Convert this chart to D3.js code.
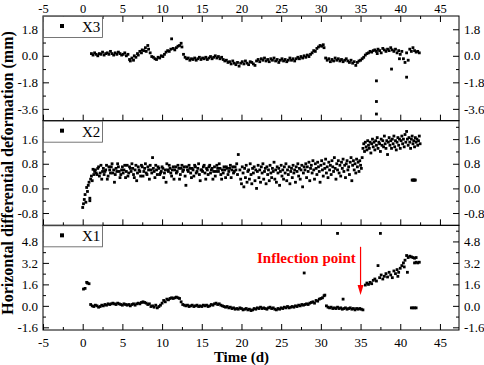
<!DOCTYPE html>
<html>
<head>
<meta charset="utf-8">
<script src="https://cdn.jsdelivr.net/npm/d3@7"></script>
<style>
  body { margin: 0; background: #fff; }
  text { font-family: "Liberation Serif", "Times New Roman", serif; }
</style>
</head>
<body>
<div id="chart"></div>
<script>
/*global d3 */

// ************************* Data (time in days, deformation in mm)

const timeTicks = [-5, 0, 5, 10, 15, 20, 25, 30, 35, 40, 45]
const timeMinor = [-2.5, 2.5, 7.5, 12.5, 17.5, 22.5, 27.5, 32.5, 37.5, 42.5]

const x3Ticks = [-3.6, -1.8, 0, 1.8]
const x3Minor = [-2.7, -0.9, 0.9]
const x2Ticks = [-0.8, 0, 0.8, 1.6]
const x2Minor = [-0.4, 0.4, 1.2, 2.0]
const x1Ticks = [-1.6, 0, 1.6, 3.2, 4.8]
const x1Minor = [-0.8, 0.8, 2.4, 4.0, 5.6]

const x3Data = [
  [1.1,0.15],[1.3,0.05],[1.5,0.2],[1.7,0.1],[1.9,0.0],[2.1,0.15],[2.3,0.1],[2.5,0.25],[2.7,0.05],[2.9,0.15],
  [3.1,0.2],[3.3,0.1],[3.5,0.3],[3.7,0.15],[3.9,0.05],[4.1,0.2],[4.3,0.1],[4.5,0.25],[4.7,0.15],[4.9,0.05],
  [5.1,0.1],[5.3,0.2],[5.5,0.0],[5.7,0.1],[5.9,-0.25],[6.0,-0.35],[6.2,-0.15],[6.4,-0.3],[6.5,0.0],[6.7,-0.1],
  [6.9,0.15],[7.0,0.05],[7.2,0.3],[7.4,0.2],[7.5,0.4],[7.7,0.35],[7.9,0.55],[8.0,0.3],[8.2,0.7],[8.3,0.45],
  [8.5,0.2],[8.7,-0.05],[8.9,-0.1],[9.1,-0.2],[9.3,-0.25],[9.5,-0.1],[9.7,-0.15],[9.9,0.0],[10.1,-0.05],[10.3,0.1],
  [10.5,0.25],[10.7,0.35],[10.9,0.3],[11.1,0.45],[11.2,1.15],[11.4,0.5],[11.6,0.4],[11.8,0.55],[12.0,0.65],[12.2,0.7],
  [12.4,0.85],[12.5,0.6],[12.7,0.1],[12.9,-0.1],[13.1,-0.2],[13.3,-0.15],[13.5,-0.3],[13.7,-0.2],[13.9,-0.25],[14.1,-0.15],
  [14.3,-0.3],[14.5,-0.2],[14.7,-0.1],[14.9,-0.25],[15.1,-0.15],[15.3,-0.2],[15.5,-0.1],[15.7,-0.25],[15.9,-0.15],[16.1,-0.05],
  [16.3,-0.2],[16.5,-0.1],[16.7,0.0],[16.9,-0.15],[17.1,-0.05],[17.3,-0.2],[17.5,-0.1],[17.7,-0.25],[17.9,-0.35],[18.1,-0.3],
  [18.3,-0.45],[18.5,-0.4],[18.7,-0.55],[18.9,-0.35],[19.1,-0.5],[19.3,-0.6],[19.5,-0.45],[19.7,-0.7],[19.9,-0.5],[20.1,-0.4],
  [20.3,-0.55],[20.5,-0.35],[20.7,-0.5],[20.9,-0.6],[21.1,-0.4],[21.3,-0.45],[21.5,-0.55],[21.7,-0.65],[21.9,-0.35],[22.1,-0.25],
  [22.3,-0.4],[22.5,-0.2],[22.7,-0.3],[22.9,-0.15],[23.1,-0.35],[23.3,-0.25],[23.5,-0.4],[23.7,-0.2],[23.9,-0.3],[24.1,-0.15],
  [24.3,-0.35],[24.5,-0.25],[24.7,-0.45],[24.9,-0.3],[25.1,-0.2],[25.3,-0.35],[25.5,-0.25],[25.7,-0.4],[25.9,-0.3],[26.1,-0.15],
  [26.3,-0.3],[26.5,-0.2],[26.7,-0.35],[26.9,-0.2],[27.1,-0.1],[27.3,-0.2],[27.5,-0.05],[27.7,-0.15],[27.9,0.0],[28.1,-0.1],
  [28.3,0.05],[28.5,-0.05],[28.7,0.1],[28.9,0.2],[29.1,0.35],[29.3,0.3],[29.5,0.5],[29.7,0.6],[29.9,0.7],[30.1,0.65],
  [30.3,0.75],[30.4,0.55],[30.6,-0.15],[30.8,-0.3],[31.0,-0.2],[31.2,-0.4],[31.4,-0.25],[31.6,-0.35],[31.8,-0.15],[32.0,-0.3],
  [32.2,-0.2],[32.4,-0.35],[32.6,-0.25],[32.8,-0.4],[33.0,-0.3],[33.2,-0.2],[33.4,-0.35],[33.6,-0.45],[33.8,-0.3],[34.0,-0.5],
  [34.2,-0.4],[34.4,-0.65],[34.6,-0.45],[34.8,-0.35],[35.0,-0.3],[35.2,-0.2],[35.4,-0.1],[35.6,0.05],[35.8,0.15],[36.0,0.2],
  [36.2,0.3],[36.4,0.25],[36.6,0.35],[36.8,0.4],[37.0,0.3],[37.2,0.45],[37.4,0.35],[37.6,0.2],[37.8,0.5],[38.0,0.4],
  [38.2,0.3],[38.4,0.45],[38.6,0.35],[38.8,0.55],[39.0,0.4],[39.2,0.3],[39.4,0.45],[39.6,0.2],[39.8,0.35],[40.0,0.1],
  [40.2,0.3],[40.4,-0.2],[40.6,-0.45],[40.8,0.2],[41.0,-0.3],[41.2,0.45],[41.4,0.3],[41.6,0.55],[41.8,0.35],[42.0,0.25],
  [42.2,0.3],[42.4,0.2],
  [37.0,-1.7],[37.0,-3.1],[37.0,-3.95],[38.9,-0.9],[40.8,-1.45],[37.1,0.15],[39.9,-0.2]
]

const x2Data = [
  [0.0,-0.62],[0.1,-0.5],[0.2,-0.36],[0.3,-0.2],[0.4,-0.45],[0.5,0.03],[0.6,-0.1],[0.7,0.1],[0.8,0.2],[0.9,-0.4],
  [0.9,-0.32],[1.0,0.3],[1.1,0.4],[1.2,0.25],[1.3,0.62],[1.4,0.45],[1.5,0.55],
  [1.6,0.6],[1.7,0.5],[1.8,0.45],[1.9,0.65],[2.0,0.7],[2.1,0.4],[2.2,0.5],[2.3,0.75],[2.4,0.3],[2.5,0.55],
  [2.6,0.65],[2.7,0.45],[2.8,0.55],[2.9,0.6],[3.0,0.75],[3.1,0.3],[3.2,0.4],[3.3,0.7],[3.4,0.6],[3.5,0.5],
  [3.6,0.7],[3.7,0.8],[3.8,0.5],[3.9,0.6],[4.0,0.2],[4.1,0.45],[4.2,0.65],[4.3,0.55],[4.4,0.8],[4.5,0.7],
  [4.6,0.55],[4.7,0.35],[4.8,0.45],[4.9,0.6],[5.0,0.7],[5.1,0.5],[5.2,0.6],[5.3,0.75],[5.4,0.35],[5.5,0.55],
  [5.6,0.75],[5.7,0.4],[5.8,0.5],[5.9,0.7],[6.0,0.65],[6.1,0.55],[6.2,0.8],[6.3,0.65],[6.4,0.45],[6.5,0.35],
  [6.6,0.6],[6.7,0.75],[6.8,0.25],[6.9,0.5],[7.0,0.7],[7.1,0.6],[7.2,0.55],[7.3,0.4],[7.4,0.75],[7.5,0.7],
  [7.6,0.4],[7.7,0.55],[7.8,0.65],[7.9,0.8],[8.0,0.5],[8.1,0.45],[8.2,0.7],[8.3,0.6],[8.4,0.3],[8.5,0.75],
  [8.6,0.6],[8.7,0.5],[8.8,1.0],[8.9,0.65],[9.0,0.55],[9.1,0.35],[9.2,0.75],[9.3,0.6],[9.4,0.45],[9.5,0.7],
  [9.6,0.65],[9.7,0.45],[9.8,0.5],[9.9,0.55],[10.0,0.7],[10.1,0.65],[10.2,0.35],[10.3,0.5],[10.4,0.6],[10.5,0.2],
  [10.6,0.8],[10.7,0.6],[10.8,0.55],[10.9,0.75],[11.0,0.65],[11.1,0.5],[11.2,0.4],[11.3,0.6],[11.4,0.7],[11.5,0.3],
  [11.6,0.6],[11.7,0.7],[11.8,0.5],[11.9,0.55],[12.0,0.75],[12.1,0.65],[12.2,0.3],[12.3,0.45],[12.4,0.65],[12.5,0.75],
  [12.6,0.55],[12.7,0.6],[12.8,0.7],[12.9,0.4],[13.0,0.1],[13.1,0.7],[13.2,0.6],[13.3,0.55],[13.4,0.75],[13.5,0.65],
  [13.6,0.5],[13.7,0.35],[13.8,0.65],[13.9,0.6],[14.0,0.4],[14.1,0.75],[14.2,0.7],[14.3,0.5],[14.4,0.55],[14.5,0.65],
  [14.6,0.8],[14.7,0.45],[14.8,0.25],[14.9,0.6],[15.0,0.6],[15.1,0.55],[15.2,0.7],[15.3,0.75],[15.4,0.5],[15.5,0.3],
  [15.6,0.65],[15.7,0.6],[15.8,0.45],[15.9,0.7],[16.0,0.75],[16.1,0.5],[16.2,0.6],[16.3,0.65],[16.4,0.3],[16.5,0.55],
  [16.6,0.7],[16.7,0.4],[16.8,0.55],[16.9,0.75],[17.0,0.65],[17.1,0.55],[17.2,0.8],[17.3,0.65],[17.4,0.45],[17.5,0.3],
  [17.6,0.6],[17.7,0.5],[17.8,0.7],[17.9,0.6],[18.0,0.35],[18.1,0.7],[18.2,0.65],[18.3,0.45],[18.4,0.55],[18.5,0.65],
  [18.6,0.75],[18.7,0.35],[18.8,0.6],[18.9,0.7],[19.0,0.5],[19.1,0.55],[19.2,0.7],[19.3,0.6],[19.4,0.8],[19.5,0.45],
  [19.6,1.1],[19.8,0.6],[19.9,0.3],[20.0,0.15],[20.1,0.7],[20.2,0.5],[20.3,0.05],[20.4,0.65],[20.5,0.35],[20.6,0.75],
  [20.7,0.2],[20.8,0.55],[20.9,0.6],[21.0,0.3],[21.1,0.8],[21.2,0.45],[21.3,0.15],[21.4,0.65],[21.5,0.5],[21.6,0.7],
  [21.7,0.25],[21.8,0.6],[21.9,0.0],[22.0,0.55],[22.1,0.75],[22.2,0.35],[22.3,0.6],[22.4,0.2],[22.5,0.7],[22.6,0.5],
  [22.7,0.8],[22.8,0.3],[22.9,0.55],[23.0,0.65],[23.1,0.15],[23.2,0.7],[23.3,0.45],[23.4,0.6],[23.5,0.25],[23.6,0.75],
  [23.7,0.5],[23.8,0.35],[23.9,0.65],[24.0,0.55],[24.1,0.85],[24.2,0.3],[24.3,0.6],[24.4,0.2],[24.5,0.7],[24.6,0.5],
  [24.7,0.65],[24.8,0.1],[24.9,0.55],[25.0,0.75],[25.1,0.4],[25.2,0.6],[25.3,0.3],[25.4,0.7],[25.5,0.5],[25.6,0.8],
  [25.7,0.25],[25.8,0.6],[25.9,0.45],[26.0,0.7],[26.1,0.15],[26.2,0.55],[26.3,0.65],[26.4,0.35],[26.5,0.75],[26.6,0.5],
  [26.7,0.6],[26.8,0.2],[26.9,0.7],[27.0,0.55],[27.1,0.8],[27.2,0.4],[27.3,0.65],[27.4,0.3],[27.5,0.6],[27.6,0.75],
  [27.7,0.05],[27.8,0.5],[27.9,0.7],[28.0,0.6],[28.1,0.8],[28.2,0.35],[28.3,0.7],[28.4,0.55],[28.5,0.85],[28.6,0.25],
  [28.7,0.65],[28.8,0.75],[28.9,0.5],[29.0,0.9],[29.1,0.6],[29.2,0.3],[29.3,0.8],[29.4,0.65],[29.5,0.45],[29.6,0.85],
  [29.7,0.7],[29.8,0.55],[29.9,0.2],[30.0,0.75],[30.1,0.9],[30.2,0.6],[30.3,0.4],[30.4,0.8],[30.5,0.65],[30.6,0.95],
  [30.7,0.5],[30.8,0.7],[30.9,0.35],[31.0,0.85],[31.1,0.6],[31.2,0.75],[31.3,0.45],[31.4,0.9],[31.5,0.7],[31.6,0.55],
  [31.7,1.0],[31.8,0.65],[31.9,0.3],[32.0,0.8],[32.1,0.6],[32.2,0.9],[32.3,0.5],[32.4,0.75],[32.5,0.4],[32.6,0.85],
  [32.7,0.65],[32.8,0.95],[32.9,0.55],[33.0,0.75],[33.1,0.35],[33.2,0.8],[33.3,0.9],[33.4,0.6],[33.5,0.7],[33.6,0.45],
  [33.7,0.85],[33.8,1.0],[33.9,0.25],[34.0,0.75],[34.1,0.9],[34.2,0.6],[34.3,0.8],[34.4,0.5],[34.5,0.95],[34.6,0.7],
  [34.7,0.85],[34.8,0.55],[34.9,0.9],[35.0,0.75],[35.1,0.65],[35.2,1.0],
  [35.3,1.3],[35.4,1.45],[35.5,1.2],[35.6,1.5],[35.7,1.35],[35.8,1.25],[35.9,1.55],[36.0,1.4],[36.1,1.3],[36.2,1.5],
  [36.3,1.15],[36.4,1.45],[36.5,1.6],[36.6,1.35],[36.7,1.5],[36.8,1.25],[36.9,1.55],[37.0,1.4],[37.1,1.65],[37.2,1.3],
  [37.3,1.5],[37.4,1.45],[37.5,1.2],[37.6,1.6],[37.7,1.4],[37.8,1.55],[37.9,1.35],[38.0,1.7],[38.1,1.45],[38.2,1.3],
  [38.3,1.55],[38.4,1.1],[38.5,1.5],[38.6,1.65],[38.7,1.4],[38.8,1.55],[38.9,1.3],[39.0,1.6],[39.1,1.45],[39.2,1.7],
  [39.3,1.35],[39.4,1.55],[39.5,1.25],[39.6,1.5],[39.7,1.65],[39.8,1.4],[39.9,1.6],[40.0,1.3],[40.1,1.55],[40.2,1.7],
  [40.3,1.45],[40.4,1.6],[40.5,1.35],[40.6,1.75],[40.7,1.5],[40.8,1.85],[40.9,1.6],[41.0,1.4],[41.1,1.65],[41.2,1.5],
  [41.3,1.3],[41.4,1.6],[41.5,1.7],[41.6,1.45],[41.7,1.55],[41.8,1.35],[41.9,1.65],[42.0,1.5],[42.1,1.6],[42.2,1.4],
  [42.3,1.55],[42.4,1.7],[42.5,1.45],
  [41.5,0.27],[41.6,0.27],[41.7,0.27],[41.8,0.27],[41.9,0.27]
]

const x1Data = [
  [0.1,1.25],[0.3,1.3],[0.5,1.75],[0.6,1.7],[0.8,1.65],
  [1.0,0.1],[1.2,0.0],[1.4,-0.05],[1.6,0.05],[1.8,0.0],[2.0,-0.1],[2.2,-0.05],[2.4,0.05],[2.6,0.0],[2.8,0.1],
  [3.0,0.05],[3.2,0.15],[3.4,0.1],[3.6,0.15],[3.8,0.2],[4.0,0.15],[4.2,0.1],[4.4,0.2],[4.6,0.15],[4.8,0.1],
  [5.0,0.05],[5.2,0.15],[5.4,0.1],[5.6,0.05],[5.8,0.1],[6.0,0.0],[6.2,0.1],[6.4,0.15],[6.6,0.05],[6.8,0.15],
  [7.0,0.2],[7.2,0.15],[7.4,0.25],[7.6,0.3],[7.8,0.25],[8.0,0.2],[8.2,0.1],[8.4,0.15],[8.6,-0.05],[8.8,0.0],
  [9.0,-0.1],[9.2,0.05],[9.4,-0.15],[9.6,-0.05],[9.8,0.05],[10.0,0.2],[10.2,0.4],[10.4,0.3],[10.6,0.5],[10.8,0.45],
  [11.0,0.55],[11.2,0.6],[11.4,0.55],[11.6,0.6],[11.8,0.65],[12.0,0.6],[12.2,0.55],[12.4,0.3],[12.6,0.1],[12.8,0.05],
  [13.0,0.0],[13.2,0.05],[13.4,-0.05],[13.6,0.0],[13.8,0.05],[14.0,-0.05],[14.2,0.0],[14.4,0.05],[14.6,-0.05],[14.8,0.0],
  [15.0,-0.05],[15.2,0.05],[15.4,0.0],[15.6,0.05],[15.8,-0.05],[16.0,0.0],[16.2,0.1],[16.4,0.05],[16.6,0.15],[16.8,0.2],
  [17.0,0.1],[17.2,0.15],[17.4,0.05],[17.6,0.0],[17.8,-0.05],[18.0,-0.1],[18.2,-0.05],[18.4,-0.15],[18.6,-0.1],[18.8,-0.2],
  [19.0,-0.15],[19.2,-0.25],[19.4,-0.2],[19.6,-0.25],[19.8,-0.15],[20.0,-0.2],[20.2,-0.3],[20.4,-0.25],[20.6,-0.2],[20.8,-0.3],
  [21.0,-0.25],[21.2,-0.35],[21.4,-0.3],[21.6,-0.2],[21.8,-0.25],[22.0,-0.15],[22.2,-0.2],[22.4,-0.1],[22.6,-0.2],[22.8,-0.15],
  [23.0,-0.2],[23.2,-0.25],[23.4,-0.15],[23.6,-0.1],[23.8,-0.2],[24.0,-0.15],[24.2,-0.25],[24.4,-0.3],[24.6,-0.2],[24.8,-0.25],
  [25.0,-0.15],[25.2,-0.2],[25.4,-0.1],[25.6,-0.15],[25.8,-0.05],[26.0,-0.15],[26.2,-0.1],[26.4,-0.05],[26.6,-0.1],[26.8,0.0],
  [27.0,-0.05],[27.2,0.05],[27.4,0.0],[27.6,0.1],[27.8,0.05],[28.0,0.1],[28.2,0.15],[28.4,0.1],[28.6,0.2],[28.8,0.25],
  [29.0,0.3],[29.2,0.2],[29.4,0.4],[29.6,0.35],[29.8,0.5],[30.0,0.55],[30.2,0.6],[30.4,0.75],[30.5,0.8],
  [30.7,0.0],[30.9,-0.1],[31.1,-0.15],[31.3,-0.1],[31.5,-0.2],[31.7,-0.15],[31.9,-0.2],[32.1,-0.1],[32.3,-0.2],[32.5,-0.15],
  [32.7,-0.25],[32.9,-0.2],[33.1,-0.15],[33.3,-0.25],[33.5,-0.2],[33.7,-0.15],[33.9,-0.25],[34.1,-0.2],[34.3,-0.3],[34.5,-0.2],
  [34.7,-0.25],[34.9,-0.2],[35.1,-0.25],[35.3,-0.3],
  [27.9,2.45],[32.1,5.4],[37.5,5.4],[32.8,0.5],
  [35.6,1.55],[35.8,1.7],[36.0,1.6],[36.2,1.75],[36.4,1.65],[36.6,1.9],[36.8,2.0],[37.0,1.85],[37.2,3.0],[37.4,2.1],
  [37.6,2.3],[37.8,2.0],[38.0,2.2],[38.2,2.4],[38.4,2.15],[38.6,2.5],[38.8,2.3],[39.0,2.1],[39.2,2.6],[39.4,2.4],
  [39.6,2.7],[39.7,2.2],[39.8,2.5],[40.0,2.8],[40.2,3.0],[40.4,3.2],[40.5,2.9],[40.6,3.4],[40.8,3.75],[40.9,2.5],
  [41.0,3.6],[41.2,3.7],[41.4,3.65],[41.6,3.6],[41.8,3.55],[42.0,3.6],
  [41.8,3.2],[42.0,3.25],[42.2,3.2],[42.4,3.25],
  [41.4,-0.15],[41.6,-0.15],[41.8,-0.15],[42.0,-0.15]
]

const inflection = {label: "Inflection point", time: 35, from: 4.4, to: 0.8, textTime: 34.4, textValue: 3.2}

async function draw() {

//************************* 1. Set up Measurement

  const width = 484

  let dimensions = {
    width: width,
    height: 365,
    margin: {
      top: 16,
      right: 25,
      bottom: 35,
      left: 43
    }
  }

  dimensions.boundedWidth = dimensions.width
    - dimensions.margin.left
    - dimensions.margin.right

  dimensions.boundedHeight = dimensions.height
    - dimensions.margin.top
    - dimensions.margin.bottom

  const panelHeight = dimensions.boundedHeight / 3

//************************* 2. Draw Canvas

  const wrapper = d3.select("#chart")
    .append("svg")
    .attr("width", dimensions.width)
    .attr("height", dimensions.height)

  const bounds = wrapper.append("g")
    .attr("transform", `translate(${dimensions.margin.left}, ${dimensions.margin.top})`)

//************************* 3. Scales

  const xScale = d3.scaleLinear()
    .domain([-5, 47.4])
    .range([0, dimensions.boundedWidth])

  const panels = [
    {name: "X3", data: x3Data, domain: [-4.4, 2.7], ticks: x3Ticks, minor: x3Minor},
    {name: "X2", data: x2Data, domain: [-1.2, 2.2], ticks: x2Ticks, minor: x2Minor},
    {name: "X1", data: x1Data, domain: [-1.8, 6.0], ticks: x1Ticks, minor: x1Minor}
  ]

  const fmtY = d => d.toFixed(1)
  const fmtX = d => String(d)
  const fontFamily = "Liberation Serif, serif"
  const dot = 2.8

  const styleAxis = (g, size = 13) => {
    g.attr("font-size", size).attr("font-family", fontFamily)
    g.select(".domain").remove()
    g.selectAll("line").attr("stroke", "#000")
    g.selectAll("text").attr("fill", "#000").style("font-family", fontFamily)
  }

//************************* 4. Draw Panels

  panels.forEach((p, i) => {
    const g = bounds.append("g")
      .attr("transform", `translate(0, ${i * panelHeight})`)

    const yScale = d3.scaleLinear()
      .domain(p.domain)
      .range([panelHeight, 0])

    // dots
    g.append("g")
      .selectAll("rect")
      .data(p.data)
      .join("rect")
      .attr("x", d => xScale(d[0]) - dot / 2)
      .attr("y", d => yScale(d[1]) - dot / 2)
      .attr("width", dot)
      .attr("height", dot)
      .attr("fill", "#000")

    // y axes
    g.append("g")
      .call(d3.axisLeft(yScale).tickValues(p.ticks).tickSize(-6).tickPadding(5).tickFormat(fmtY))
      .call(styleAxis)
    g.append("g")
      .call(d3.axisLeft(yScale).tickValues(p.minor).tickSize(-3).tickFormat(""))
      .call(styleAxis)
    g.append("g")
      .attr("transform", `translate(${dimensions.boundedWidth}, 0)`)
      .call(d3.axisRight(yScale).tickValues(p.ticks).tickSize(-6).tickPadding(5).tickFormat(fmtY))
      .call(styleAxis)
    g.append("g")
      .attr("transform", `translate(${dimensions.boundedWidth}, 0)`)
      .call(d3.axisRight(yScale).tickValues(p.minor).tickSize(-3).tickFormat(""))
      .call(styleAxis)

    // x ticks on bottom of each panel
    const isLast = i === panels.length - 1
    g.append("g")
      .attr("transform", `translate(0, ${panelHeight})`)
      .call(d3.axisBottom(xScale).tickValues(timeTicks).tickSize(-6).tickPadding(8)
        .tickFormat(isLast ? fmtX : ""))
      .call(styleAxis)
    g.append("g")
      .attr("transform", `translate(0, ${panelHeight})`)
      .call(d3.axisBottom(xScale).tickValues(timeMinor).tickSize(-3).tickFormat(""))
      .call(styleAxis)

    if (i === 0) {
      g.append("g")
        .call(d3.axisTop(xScale).tickValues(timeTicks).tickSize(-6).tickPadding(3).tickFormat(fmtX))
        .call(styleAxis, 12.5)
      g.append("g")
        .call(d3.axisTop(xScale).tickValues(timeMinor).tickSize(-3).tickFormat(""))
        .call(styleAxis)
    }

    // frame
    g.append("rect")
      .attr("width", dimensions.boundedWidth)
      .attr("height", panelHeight)
      .attr("fill", "none")
      .attr("stroke", "#000")
      .attr("stroke-width", 1)

    // legend
    const legend = g.append("g")
    legend.append("rect")
      .attr("x", 0.5)
      .attr("y", 0.5)
      .attr("width", 59)
      .attr("height", 21)
      .attr("fill", "#fff")
      .attr("stroke", "#555")
      .attr("stroke-width", 0.8)
    legend.append("rect")
      .attr("x", 17)
      .attr("y", 8)
      .attr("width", 4)
      .attr("height", 4)
      .attr("fill", "#000")
    legend.append("text")
      .attr("x", 39)
      .attr("y", 16)
      .attr("font-size", 15)
      .text(p.name)

    // annotation
    if (p.name === "X1") {
      g.append("text")
        .attr("x", xScale(inflection.textTime))
        .attr("y", yScale(inflection.textValue))
        .attr("text-anchor", "end")
        .attr("font-size", 15)
        .attr("font-weight", "bold")
        .attr("fill", "#ff0000")
        .text(inflection.label)

      const xA = xScale(inflection.time)
      const y0 = yScale(inflection.from)
      const y1 = yScale(inflection.to)
      g.append("line")
        .attr("x1", xA).attr("x2", xA)
        .attr("y1", y0).attr("y2", y1 - 9)
        .attr("stroke", "#ff0000")
        .attr("stroke-width", 1.2)
      g.append("path")
        .attr("d", `M${xA - 3},${y1 - 10} L${xA + 3},${y1 - 10} L${xA},${y1} Z`)
        .attr("fill", "#ff0000")
    }
  })

//************************* 5. Axis Titles

  wrapper.append("text")
    .attr("x", dimensions.margin.left + xScale(20))
    .attr("y", 362)
    .attr("text-anchor", "middle")
    .attr("font-size", 15)
    .attr("font-weight", "bold")
    .text("Time (d)")

  wrapper.append("text")
    .attr("transform", `translate(13, ${dimensions.margin.top + dimensions.boundedHeight / 2}) rotate(-90)`)
    .attr("text-anchor", "middle")
    .attr("font-size", 16)
    .attr("font-weight", "bold")
    .text("Horizontal differential deformation (mm)")

} draw()
</script>
</body>
</html>
